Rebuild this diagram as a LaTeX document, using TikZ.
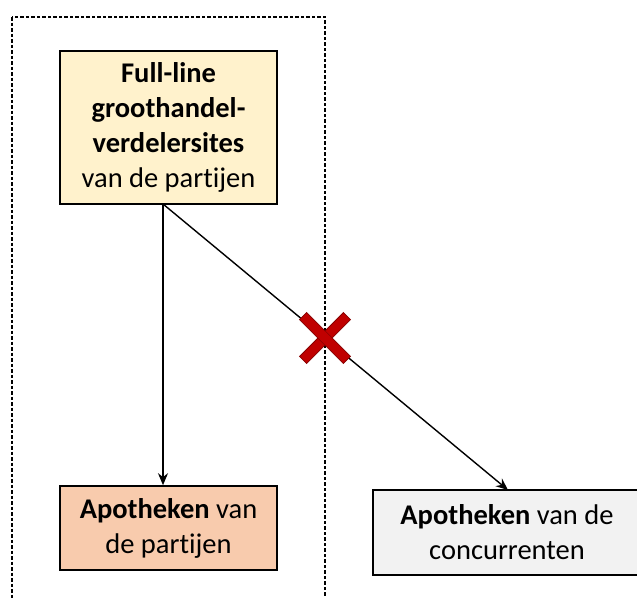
\documentclass[tikz,border=0pt]{standalone}
\usepackage{fontspec}
\setmainfont{Carlito}[Ligatures=NoCommon]
\usetikzlibrary{arrows.meta}
\definecolor{topfill}{HTML}{FFF2CC}
\definecolor{ownfill}{HTML}{F8CBAD}
\definecolor{compfill}{HTML}{F2F2F2}
\definecolor{crossred}{HTML}{C00000}
\tikzset{
  boxnode/.style={draw=black, line width=1.6pt, align=center, inner sep=0pt,
    font=\fontsize{28.5}{35}\selectfont},
  conn/.style={line width=1.4pt, -{Stealth[length=12pt,width=10pt]}},
}
\begin{document}
\begin{tikzpicture}[x=1pt,y=-1pt]
\useasboundingbox (0,0) rectangle (637,597);
\begin{scope}
\clip (0,0) rectangle (637,597);
\draw[line width=1.2pt, dash pattern=on 3.5pt off 2pt] (12,17) rectangle (325,620);
\node[boxnode, fill=topfill, minimum width=217pt, minimum height=153pt] (top) at (168.5,127.5)
  {\textbf{Full-line}\\\textbf{groothandel-}\\\textbf{verdelersites}\\van de partijen};
\node[boxnode, fill=ownfill, minimum width=217pt, minimum height=84pt] (own) at (168.5,528)
  {\textbf{Apotheken} van\\de partijen};
\node[boxnode, fill=compfill, minimum width=268pt, minimum height=85pt] (comp) at (507,532.5)
  {\textbf{Apotheken} van de\\concurrenten};
\coordinate (s) at (163,204);
\draw[conn] (s) -- (s |- own.north);
\coordinate (e) at (508,490);
\draw[conn] (s) -- (e);
\coordinate (x) at (325,338);
\begin{scope}[shift={(x)}, rotate=45]
  \fill[crossred, draw=crossred!70!black, line width=0.8pt] (-31,-5) rectangle (31,5);
  \fill[crossred, draw=crossred!70!black, line width=0.8pt] (-5,-31) rectangle (5,31);
  \fill[crossred] (-4.6,-4.6) rectangle (4.6,4.6);
\end{scope}
\end{scope}
\end{tikzpicture}
\end{document}
